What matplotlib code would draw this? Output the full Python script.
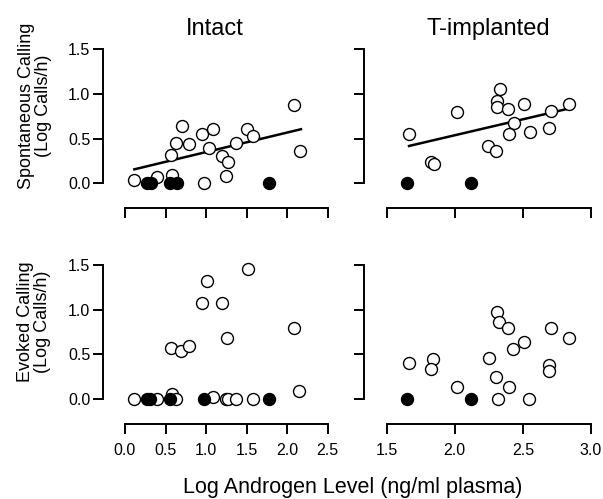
import numpy as np
import matplotlib
matplotlib.use("Agg")
import matplotlib.pyplot as plt

plt.rcParams["font.family"] = ["Liberation Sans", "DejaVu Sans"]

# --- spontaneous calling, intact ---
sp_int_open_x = [0.115, 0.40, 0.575, 0.98, 1.25, 0.567, 0.63, 0.70, 0.79, 0.945,
                 1.08, 1.03, 1.20, 1.275, 1.37, 1.51, 1.575, 2.08, 2.16]
sp_int_open_y = [0.037, 0.067, 0.093, 0.0, 0.085, 0.316, 0.45, 0.64, 0.435, 0.55,
                 0.607, 0.39, 0.305, 0.24, 0.45, 0.61, 0.53, 0.87, 0.36]
sp_int_fill_x = [0.27, 0.32, 0.555, 0.64, 1.775]
sp_int_fill_y = [0.0, 0.0, 0.0, 0.0, 0.0]
sp_int_fit_x = [0.115, 2.17]
sp_int_fit_y = [0.156, 0.604]

# --- spontaneous calling, T-implanted ---
sp_imp_open_x = [1.664, 1.823, 1.847, 2.014, 2.332, 2.312, 2.308, 2.393, 2.51, 2.435,
                 2.40, 2.552, 2.246, 2.302, 2.704, 2.694, 2.839]
sp_imp_open_y = [0.547, 0.24, 0.22, 0.80, 1.05, 0.92, 0.856, 0.827, 0.886, 0.677,
                 0.547, 0.577, 0.417, 0.364, 0.811, 0.614, 0.882]
sp_imp_fill_x = [1.651, 2.117]
sp_imp_fill_y = [0.0, 0.0]
sp_imp_fit_x = [1.664, 2.846]
sp_imp_fit_y = [0.417, 0.838]

# --- evoked calling, intact ---
ev_int_open_x = [0.115, 0.40, 0.575, 0.63, 1.08, 1.245, 1.275, 1.365, 1.575, 2.15,
                 0.563, 0.687, 0.793, 0.945, 1.015, 1.20, 1.254, 1.517, 2.084]
ev_int_open_y = [0.0, 0.0, 0.056, 0.0, 0.02, 0.0, 0.0, 0.0, 0.0, 0.09,
                 0.575, 0.54, 0.594, 1.08, 1.32, 1.08, 0.68, 1.456, 0.80]
ev_int_fill_x = [0.27, 0.31, 0.555, 0.98, 1.775]
ev_int_fill_y = [0.0, 0.0, 0.0, 0.0, 0.0]

# --- evoked calling, T-implanted ---
ev_imp_open_x = [1.666, 1.842, 1.823, 2.014, 2.251, 2.312, 2.327, 2.388, 2.302, 2.315,
                 2.40, 2.43, 2.51, 2.547, 2.704, 2.694, 2.694, 2.839]
ev_imp_open_y = [0.40, 0.445, 0.333, 0.138, 0.463, 0.97, 0.86, 0.80, 0.25, 0.0,
                 0.13, 0.556, 0.635, 0.0, 0.80, 0.38, 0.317, 0.686]
ev_imp_fill_x = [1.651, 2.117]
ev_imp_fill_y = [0.0, 0.0]

left_xticks = [0.0, 0.5, 1.0, 1.5, 2.0, 2.5]
right_xticks = [1.5, 2.0, 2.5, 3.0]
yticks = [0.0, 0.5, 1.0, 1.5]

W, H = 603, 499
fig = plt.figure(figsize=(W / 100, H / 100), dpi=100)


def make_ax(x0, x1, ytop, ybot):
    return fig.add_axes([x0 / W, 1 - ybot / H, (x1 - x0) / W, (ybot - ytop) / H])


def style(ax, xlim, xticks, xlabels, ylabels):
    ax.set_xlim(*xlim)
    ax.set_ylim(0, 1.5)
    ax.set_xticks(xticks)
    ax.set_yticks(yticks)
    ax.spines["top"].set_visible(False)
    ax.spines["right"].set_visible(False)
    ax.spines["left"].set_position(("outward", 16))
    ax.spines["bottom"].set_position(("outward", 18))
    for s in ("left", "bottom"):
        ax.spines[s].set_linewidth(1.4)
    ax.tick_params(length=7, width=1.4, labelsize=11.5)
    ax.tick_params(axis="x", pad=7)
    ax.tick_params(axis="y", pad=2)
    if xlabels:
        ax.set_xticklabels([f"{t:.1f}" for t in xticks])
    else:
        ax.set_xticklabels([])
    if ylabels:
        ax.set_yticklabels([f"{t:.1f}" for t in yticks])
    else:
        ax.set_yticklabels([])


def points(ax, ox, oy, fx, fy):
    ax.plot(ox, oy, "o", ms=8.6, mfc="white", mec="black", mew=1.0,
            ls="none", clip_on=False, zorder=3)
    ax.plot(fx, fy, "o", ms=8.6, mfc="black", mec="black", mew=1.0,
            ls="none", clip_on=False, zorder=4)


ax1 = make_ax(125, 327.7, 49, 183.3)
ax2 = make_ax(386.7, 591, 49, 183.3)
ax3 = make_ax(125, 327.7, 265, 399)
ax4 = make_ax(386.7, 591, 265, 399)

points(ax1, sp_int_open_x, sp_int_open_y, sp_int_fill_x, sp_int_fill_y)
ax1.plot(sp_int_fit_x, sp_int_fit_y, color="black", lw=1.8, zorder=2)
points(ax2, sp_imp_open_x, sp_imp_open_y, sp_imp_fill_x, sp_imp_fill_y)
ax2.plot(sp_imp_fit_x, sp_imp_fit_y, color="black", lw=1.8, zorder=2)
points(ax3, ev_int_open_x, ev_int_open_y, ev_int_fill_x, ev_int_fill_y)
points(ax4, ev_imp_open_x, ev_imp_open_y, ev_imp_fill_x, ev_imp_fill_y)

style(ax1, (0, 2.5), left_xticks, False, True)
style(ax2, (1.5, 3.0), right_xticks, False, False)
style(ax3, (0, 2.5), left_xticks, True, True)
style(ax4, (1.5, 3.0), right_xticks, True, False)

fig.text(215 / W, 1 - 29 / H, "Intact", ha="center", va="center", fontsize=17)
fig.text(488 / W, 1 - 29 / H, "T-implanted", ha="center", va="center", fontsize=17)
fig.text(35 / W, 1 - 106 / H, "Spontaneous Calling\n(Log Calls/h)", rotation=90,
         ha="center", va="center", multialignment="center", fontsize=13, linespacing=0.95)
fig.text(34 / W, 1 - 322 / H, "Evoked Calling\n(Log Calls/h)", rotation=90,
         ha="center", va="center", multialignment="center", fontsize=13, linespacing=0.95)
fig.text(353 / W, 1 - 488 / H, "Log Androgen Level (ng/ml plasma)",
         ha="center", va="center", fontsize=15.5)

fig.savefig("out.png", dpi=100)
